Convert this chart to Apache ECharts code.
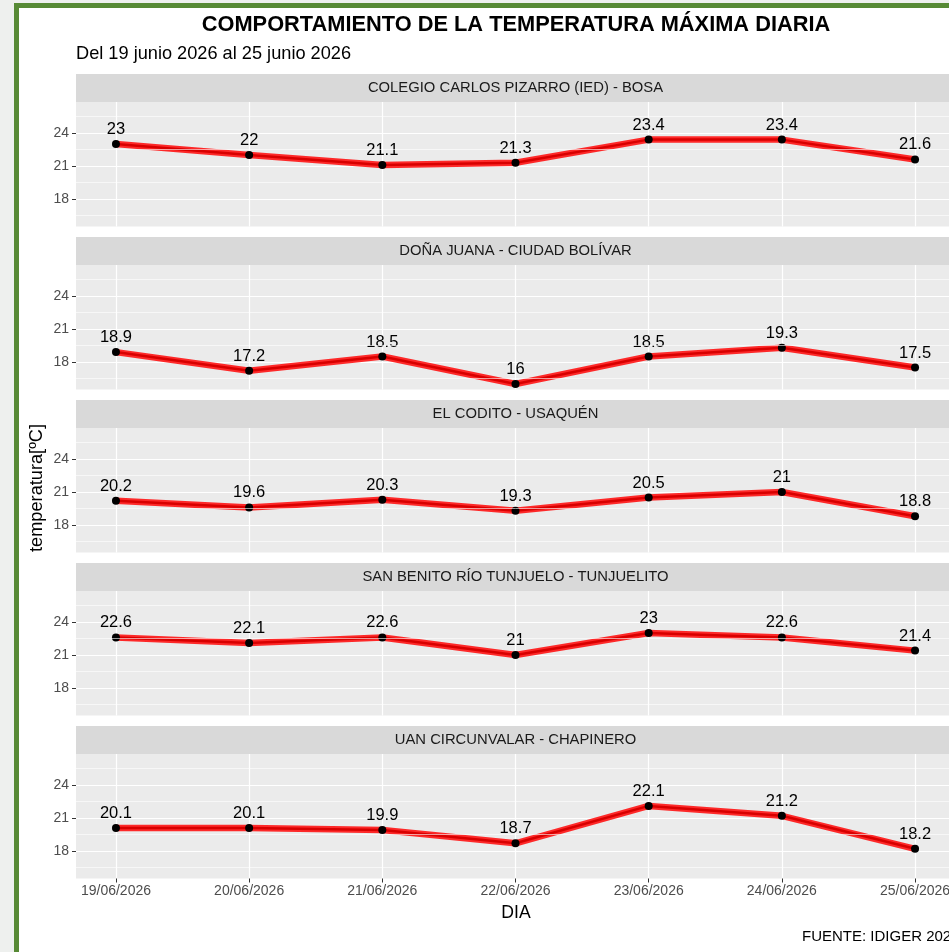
<!DOCTYPE html>
<html>
<head>
<meta charset="utf-8">
<script src="https://cdn.jsdelivr.net/npm/echarts@6/dist/echarts.min.js"></script>
<style>
  html, body { margin: 0; padding: 0; background: #eef0ee; width: 949px; height: 952px; overflow: hidden; }
  #frame { position: absolute; left: 14px; top: 3px; width: 1000px; height: 1000px; background: #fff;
    border-top: 5px solid #578a35; border-left: 5px solid #578a35; box-sizing: border-box; }
  #chart { position: absolute; left: 0; top: 0; width: 970px; height: 952px; }
</style>
</head>
<body>
<div id="frame"></div>
<div id="chart"></div>
<script>
// data
const days = ['19/06/2026', '20/06/2026', '21/06/2026', '22/06/2026', '23/06/2026', '24/06/2026', '25/06/2026']
const stations = [
  'COLEGIO CARLOS PIZARRO (IED) - BOSA',
  'DOÑA JUANA - CIUDAD BOLÍVAR',
  'EL CODITO - USAQUÉN',
  'SAN BENITO RÍO TUNJUELO - TUNJUELITO',
  'UAN CIRCUNVALAR - CHAPINERO'
]
const bosa = [23, 22, 21.1, 21.3, 23.4, 23.4, 21.6]
const ciudadBolivar = [18.9, 17.2, 18.5, 16, 18.5, 19.3, 17.5]
const usaquen = [20.2, 19.6, 20.3, 19.3, 20.5, 21, 18.8]
const tunjuelito = [22.6, 22.1, 22.6, 21, 23, 22.6, 21.4]
const chapinero = [20.1, 20.1, 19.9, 18.7, 22.1, 21.2, 18.2]
const yTicks = [18, 21, 24]
const yMinor = [16.5, 19.5, 22.5, 25.5]

const seriesValues = [bosa, ciudadBolivar, usaquen, tunjuelito, chapinero]
const dayIdx = days.map((d, i) => i)

const chart = echarts.init(document.getElementById('chart'))

const panelLeft = 76
const panelWidth = 879
const panelTop = 102
const panelHeight = 124.5
const panelStep = 163
const stripHeight = 28
const axisGrey = '#4D4D4D'
const font = 'Liberation Sans, Arial, sans-serif'

const grids = []
const xAxes = []
const yAxes = []
const series = []
const graphics = []

seriesValues.forEach((vals, i) => {
  const top = panelTop + panelStep * i
  const last = i === seriesValues.length - 1
  grids.push({
    left: panelLeft, top: top, width: panelWidth, height: panelHeight,
    show: true, backgroundColor: '#EBEBEB', borderWidth: 0
  })
  xAxes.push({
    gridIndex: i, type: 'value', min: -0.3, max: 6.3,
    axisLine: { show: false, onZero: false },
    axisTick: { show: last, customValues: dayIdx, length: 4, lineStyle: { color: '#333', width: 1 } },
    axisLabel: {
      show: last, customValues: dayIdx, formatter: v => days[Math.round(v)],
      color: axisGrey, fontSize: 14, fontFamily: font, margin: 6
    },
    splitLine: { show: true, lineStyle: { color: '#fff', width: 1.2 } }
  })
  yAxes.push({
    gridIndex: i, type: 'value', min: 15.5, max: 26.82,
    axisLine: { show: false, onZero: false },
    axisTick: { show: true, customValues: yTicks, length: 4, lineStyle: { color: '#333', width: 1 } },
    axisLabel: { customValues: yTicks, color: axisGrey, fontSize: 14, fontFamily: font, margin: 7 },
    splitLine: { show: true, lineStyle: { color: '#fff', width: 1.2 } }
  })
  const pts = vals.map((v, k) => [k, v])
  // minor grid lines
  series.push({
    type: 'line', xAxisIndex: i, yAxisIndex: i, data: pts, showSymbol: false,
    lineStyle: { width: 0, opacity: 0 }, silent: true, z: 1,
    markLine: {
      silent: true, symbol: 'none', label: { show: false },
      lineStyle: { color: '#fff', width: 0.6, type: 'solid' },
      data: yMinor.map(v => ({ yAxis: v }))
    }
  })
  // thick red line
  series.push({
    type: 'line', xAxisIndex: i, yAxisIndex: i, data: pts, showSymbol: false,
    lineStyle: { width: 6.5, color: 'rgba(255,20,20,0.9)' }, z: 2
  })
  // darker core + points + labels
  series.push({
    type: 'line', xAxisIndex: i, yAxisIndex: i, data: pts,
    symbol: 'circle', symbolSize: 8, itemStyle: { color: '#000' },
    lineStyle: { width: 2.5, color: '#d80000' }, z: 3,
    label: {
      show: true, position: 'top', distance: 2, color: '#000', fontSize: 16.5, fontFamily: font,
      formatter: p => String(p.value[1])
    }
  })
  // strip
  graphics.push({
    type: 'rect', shape: { x: panelLeft, y: top - stripHeight, width: panelWidth, height: stripHeight },
    style: { fill: '#D9D9D9' }, z: 0
  })
  graphics.push({
    type: 'text', x: panelLeft + panelWidth / 2, y: top - stripHeight / 2,
    style: { text: stations[i], fill: '#1A1A1A', font: '14.8px ' + font, align: 'center', verticalAlign: 'middle' }
  })
})

graphics.push(
  {
    type: 'text', x: 516, y: 25,
    style: { text: 'COMPORTAMIENTO DE LA TEMPERATURA MÁXIMA DIARIA', fill: '#000', font: 'bold 21.8px ' + font, align: 'center', verticalAlign: 'middle' }
  },
  {
    type: 'text', x: 76, y: 54,
    style: { text: 'Del 19 junio 2026 al 25 junio 2026', fill: '#000', font: '18.2px ' + font, align: 'left', verticalAlign: 'middle' }
  },
  {
    type: 'text', x: 516, y: 913,
    style: { text: 'DIA', fill: '#000', font: '17.6px ' + font, align: 'center', verticalAlign: 'middle' }
  },
  {
    type: 'text', x: 37, y: 488, rotation: Math.PI / 2,
    style: { text: 'temperatura[ºC]', fill: '#000', font: '18.2px ' + font, align: 'center', verticalAlign: 'middle' }
  },
  {
    type: 'text', x: 802, y: 937,
    style: { text: 'FUENTE: IDIGER 2026', fill: '#000', font: '15px ' + font, align: 'left', verticalAlign: 'middle' }
  }
)

chart.setOption({
  backgroundColor: 'transparent',
  animation: false,
  grid: grids,
  xAxis: xAxes,
  yAxis: yAxes,
  series: series,
  graphic: graphics
})
</script>
</body>
</html>
